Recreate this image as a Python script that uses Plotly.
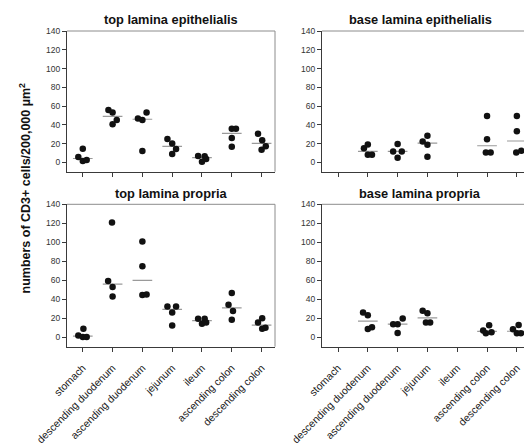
import numpy as np
import plotly.graph_objects as go

categories = ["stomach", "descending duodenum", "ascending duodenum", "jejunum",
              "ileum", "ascending colon", "descending colon"]
y_ticks = [0, 20, 40, 60, 80, 100, 120, 140]

panel_titles = ["top lamina epithelialis", "base lamina epithelialis",
                "top lamina propria", "base lamina propria"]
y_title = "numbers of CD3+ cells/200,000 µm<sup>2</sup>"

# values per category (cells / 200,000 µm²)
top_epithelialis = [
    [5.6, 14.6, 1.5, 2.5],
    [55.9, 53.0, 45.0, 40.6],
    [46.7, 45.1, 53.2, 12.1],
    [24.9, 20.0, 14.2, 8.9],
    [6.7, 6.5, 3.5, 0.7],
    [35.8, 35.8, 25.8, 16.7],
    [30.5, 23.4, 17.0, 13.5],
]
base_epithelialis = [
    [],
    [15.1, 19.0, 8.1, 8.1],
    [11.6, 19.4, 11.6, 4.9],
    [22.2, 28.2, 18.6, 5.9],
    [],
    [49.4, 24.7, 10.6, 10.6],
    [49.4, 33.2, 10.6, 12.3],
]
top_propria = [
    [1.8, 8.9, 0.3, 0.3],
    [120.9, 59.2, 52.8, 43.0],
    [100.8, 74.7, 44.4, 45.1],
    [32.4, 32.4, 26.1, 12.4],
    [19.4, 19.4, 14.1, 15.5],
    [34.2, 46.5, 27.5, 18.4],
    [20.1, 15.5, 8.9, 10.0],
]
base_propria = [
    [],
    [25.9, 23.2, 8.7, 10.5],
    [13.7, 13.7, 19.6, 4.5],
    [28.0, 25.3, 15.4, 15.4],
    [],
    [7.0, 12.6, 4.2, 5.3],
    [8.4, 12.9, 4.2, 4.2],
]

# horizontal scatter spread of the dots (fraction of category spacing)
top_epithelialis_dx = [
    [-0.15, 0.0, 0.0, 0.13], [-0.14, 0.0, 0.14, 0.0], [-0.15, 0.0, 0.14, 0.0],
    [-0.16, 0.0, 0.13, 0.0], [-0.13, 0.09, 0.14, 0.0], [0.0, 0.14, 0.0, 0.0],
    [-0.12, 0.02, 0.14, 0.0],
]
base_epithelialis_dx = [
    [], [-0.13, 0.0, 0.0, 0.14], [-0.15, 0.0, 0.14, 0.0], [-0.16, 0.0, 0.0, 0.0],
    [], [0.0, 0.0, -0.04, 0.12], [0.0, 0.0, -0.02, 0.15],
]
top_propria_dx = [
    [-0.15, 0.02, 0.0, 0.13], [-0.02, -0.15, 0.0, 0.0], [0.0, 0.0, 0.0, 0.14],
    [-0.16, 0.13, 0.0, 0.0], [-0.13, 0.09, 0.0, 0.14], [-0.11, 0.0, 0.04, 0.0],
    [0.02, -0.12, 0.02, 0.13],
]
base_propria_dx = [
    [], [-0.16, 0.0, 0.0, 0.14], [-0.15, 0.0, 0.17, 0.0], [-0.16, 0.0, -0.05, 0.09],
    [], [-0.13, 0.07, -0.04, 0.15], [-0.13, 0.06, 0.0, 0.14],
]

panels = [
    (top_epithelialis, top_epithelialis_dx, "x", "y"),
    (base_epithelialis, base_epithelialis_dx, "x2", "y2"),
    (top_propria, top_propria_dx, "x3", "y3"),
    (base_propria, base_propria_dx, "x4", "y4"),
]

W, H = 524, 443
FONT = "Liberation Sans, Arial, sans-serif"
AXIS_COL = "#3a3a3a"
FRAME_COL = "#8c8c8c"
HALF = 0.33

fig = go.Figure()
for vals, dxs, xa, ya in panels:
    xs, ys, lx, ly = [], [], [], []
    for i, (v, d) in enumerate(zip(vals, dxs)):
        for yy, dd in zip(v, d):
            xs.append(i + dd)
            ys.append(yy)
        if v:
            m = float(np.median(v))
            lx += [i - HALF, i + HALF, None]
            ly += [m, m, None]
    fig.add_trace(go.Scatter(x=lx, y=ly, mode="lines", xaxis=xa, yaxis=ya,
                             line=dict(color="#9a9a9a", width=1.2),
                             hoverinfo="skip", showlegend=False))
    fig.add_trace(go.Scatter(x=xs, y=ys, mode="markers", xaxis=xa, yaxis=ya,
                             marker=dict(color="#111111", size=6.5),
                             showlegend=False, cliponaxis=False))

xl = [67 / W, 275 / W]
xr = [322 / W, 1.0]
yt = [1 - 171.7 / H, 1 - 31 / H]
yb = [1 - 346.7 / H, 1 - 204.3 / H]

def xaxis(domain, anchor, rng, labels):
    return dict(domain=domain, anchor=anchor, range=rng, tickmode="array",
                tickvals=list(range(len(categories))), ticktext=categories,
                showticklabels=labels, tickangle=-45, ticks="outside", ticklen=4,
                tickwidth=1, tickcolor=AXIS_COL, showline=True, linecolor=AXIS_COL,
                linewidth=1, showgrid=False, zeroline=False, automargin=False,
                ticklabelstandoff=6,
                tickfont=dict(family=FONT, size=10.5, color="#1a1a1a"))

def yaxis(domain, anchor):
    return dict(domain=domain, anchor=anchor, range=[-10, 140], tickmode="array",
                tickvals=y_ticks, ticks="outside", ticklen=4, tickwidth=1,
                tickcolor=AXIS_COL, showline=True, linecolor=AXIS_COL, linewidth=1,
                showgrid=False, zeroline=False, automargin=False,
                tickfont=dict(family=FONT, size=8.5, color="#333333"))

fig.update_layout(
    width=W, height=H, margin=dict(l=0, r=0, t=0, b=0),
    paper_bgcolor="white", plot_bgcolor="white",
    xaxis=xaxis(xl, "y", [-0.53, 6.45], False),
    yaxis=yaxis(yt, "x"),
    xaxis2=xaxis(xr, "y2", [-0.537, 6.24], False),
    yaxis2=yaxis(yt, "x2"),
    xaxis3=xaxis(xl, "y3", [-0.53, 6.45], True),
    yaxis3=yaxis(yb, "x3"),
    xaxis4=xaxis(xr, "y4", [-0.537, 6.24], True),
    yaxis4=yaxis(yb, "x4"),
)

# frame lines (top for all, right for left panels)
shapes = []
for xa, ya, right in [("x", "y", True), ("x2", "y2", False), ("x3", "y3", True), ("x4", "y4", False)]:
    shapes.append(dict(type="line", xref=f"{xa} domain", yref=f"{ya} domain",
                       x0=0, x1=1, y0=1, y1=1, line=dict(color=FRAME_COL, width=1)))
    if right:
        shapes.append(dict(type="line", xref=f"{xa} domain", yref=f"{ya} domain",
                           x0=1, x1=1, y0=0, y1=1, line=dict(color=FRAME_COL, width=1)))
fig.update_layout(shapes=shapes)

title_pos = [(171 / W, 1 - 20 / H), (420 / W, 1 - 20 / H),
             (171 / W, 1 - 194 / H), (420 / W, 1 - 194 / H)]
annotations = []
for t, (ax, ay) in zip(panel_titles, title_pos):
    annotations.append(dict(text=f"<b>{t}</b>", x=ax, y=ay, xref="paper", yref="paper",
                            showarrow=False, xanchor="center", yanchor="middle",
                            font=dict(family=FONT, size=12.8, color="#111111")))
annotations.append(dict(text=f"<b>{y_title}</b>", x=24 / W, y=1 - 188.5 / H,
                        xref="paper", yref="paper", showarrow=False, textangle=-90,
                        xanchor="center", yanchor="middle",
                        font=dict(family=FONT, size=12.5, color="#111111")))
fig.update_layout(annotations=annotations)

fig.write_html(
    "out.html",
    config={"displayModeBar": False},
    post_script="document.body.style.margin='0';document.body.style.overflow='hidden';",
)
